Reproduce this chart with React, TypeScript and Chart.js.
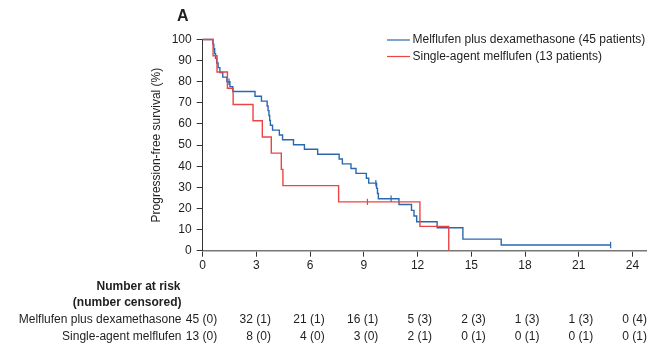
import React, { useEffect, useRef } from "react";
import { Chart, registerables } from "chart.js";

Chart.register(...registerables);

// ---- data ----
const blueTimes = [0, 0.57, 0.62, 0.67, 0.72, 0.78, 0.86, 0.96, 1.12, 1.35, 1.52, 1.68, 2.92, 3.28, 3.6, 3.65, 3.7, 3.74, 3.78, 3.9, 4.28, 4.46, 5.07, 5.68, 6.42, 7.62, 7.8, 8.28, 8.56, 9.14, 9.27, 9.71, 9.76, 9.81, 10.96, 11.66, 11.8, 11.95, 13.09, 14.53, 16.67, 22.78];
const blueSurvival = [100, 97.8, 95.6, 93.3, 91.1, 88.9, 86.7, 84.4, 82.2, 80.0, 77.7, 75.4, 73.1, 70.8, 68.5, 66.3, 64.0, 61.7, 59.4, 57.1, 54.8, 52.5, 50.2, 48.0, 45.7, 43.4, 41.1, 38.9, 36.6, 34.3, 32.0, 29.5, 27.1, 24.6, 21.9, 19.1, 16.4, 13.7, 10.9, 5.5, 2.7, 2.7];
const blueCensorTimes = [1.47, 9.67, 10.52, 22.78];
const blueCensorSurvival = [80.0, 32.0, 24.6, 2.7];

const redTimes = [0, 0.58, 0.8, 1.38, 1.7, 2.81, 3.33, 3.83, 4.39, 4.48, 7.59, 12.13, 13.74];
const redSurvival = [100, 92.3, 84.6, 76.9, 69.2, 61.5, 53.8, 46.2, 38.5, 30.8, 23.1, 11.5, 0];
const redCensorTimes = [9.2];
const redCensorSurvival = [23.1];

const xTicks = [0, 3, 6, 9, 12, 15, 18, 21, 24];
const yTicks = [0, 10, 20, 30, 40, 50, 60, 70, 80, 90, 100];

const seriesNames = ["Melflufen plus dexamethasone (45 patients)", "Single-agent melflufen (13 patients)"];
const riskRowLabels = ["Melflufen plus dexamethasone", "Single-agent melflufen"];
const riskBlue = ["45 (0)", "32 (1)", "21 (1)", "16 (1)", "5 (3)", "2 (3)", "1 (3)", "1 (3)", "0 (4)"];
const riskRed = ["13 (0)", "8 (0)", "4 (0)", "3 (0)", "2 (1)", "0 (1)", "0 (1)", "0 (1)", "0 (1)"];
const panelLabel = "A";
const yTitle = "Progression-free survival (%)";
const riskTitle = ["Number at risk", "(number censored)"];

const BLUE = "#2a68ae";
const RED = "#ec4444";
const FONT = '"Liberation Sans", Arial, sans-serif';
const TEXT = "#1e1e1e";

const toPoints = (t: number[], s: number[]) => t.map((x, i) => ({ x, y: s[i] }));

const overlay = {
  id: "overlay",
  afterDraw(chart: any) {
    const ctx = chart.ctx as CanvasRenderingContext2D;
    const xs = chart.scales.x;
    const area = chart.chartArea;
    ctx.save();
    ctx.fillStyle = TEXT;
    // panel label
    ctx.font = `bold 16px ${FONT}`;
    ctx.textAlign = "left";
    ctx.textBaseline = "middle";
    ctx.fillText(panelLabel, 177, 17);
    // legend
    const legendY = [40, 56.5];
    const colors = [BLUE, RED];
    ctx.font = `12px ${FONT}`;
    seriesNames.forEach((name, i) => {
      ctx.strokeStyle = colors[i];
      ctx.lineWidth = 1.2;
      ctx.beginPath();
      ctx.moveTo(387, legendY[i]);
      ctx.lineTo(410, legendY[i]);
      ctx.stroke();
      ctx.fillStyle = TEXT;
      ctx.fillText(name, 412.5, legendY[i]);
    });
    // y title
    ctx.save();
    ctx.translate(157, (area.top + area.bottom) / 2);
    ctx.rotate(-Math.PI / 2);
    ctx.textAlign = "center";
    ctx.textBaseline = "middle";
    ctx.font = `12px ${FONT}`;
    ctx.fillText(yTitle, 0, 0);
    ctx.restore();
    // risk table
    ctx.textAlign = "right";
    ctx.textBaseline = "middle";
    ctx.font = `bold 12px ${FONT}`;
    ctx.fillText(riskTitle[0], 180.5, 286.5);
    ctx.fillText(riskTitle[1], 181.5, 303);
    ctx.font = `12px ${FONT}`;
    const rowY = [320, 336.5];
    ctx.fillText(riskRowLabels[0], 181.5, rowY[0]);
    ctx.fillText(riskRowLabels[1], 181.5, rowY[1]);
    xTicks.forEach((t, i) => {
      const px = xs.getPixelForValue(t) + 14.5;
      ctx.fillText(riskBlue[i], px, rowY[0]);
      ctx.fillText(riskRed[i], px, rowY[1]);
    });
    ctx.restore();
  },
};

export default function App() {
  const ref = useRef<HTMLCanvasElement | null>(null);
  useEffect(() => {
    document.body.style.margin = "0";
    const canvas = ref.current!;
    const chart = new Chart(canvas, {
      type: "line",
      data: {
        datasets: [
          {
            label: seriesNames[1],
            data: toPoints(redTimes, redSurvival),
            borderColor: RED,
            borderWidth: 1.4,
            stepped: "before",
            pointRadius: 0,
            fill: false,
            clip: 6,
          } as any,
          {
            label: seriesNames[0],
            data: toPoints(blueTimes, blueSurvival),
            borderColor: BLUE,
            borderWidth: 1.4,
            stepped: "before",
            pointRadius: 0,
            fill: false,
            clip: 6,
          } as any,
          {
            type: "scatter",
            label: "censor-blue",
            data: toPoints(blueCensorTimes, blueCensorSurvival),
            borderColor: BLUE,
            backgroundColor: BLUE,
            pointStyle: "line",
            rotation: 90,
            pointRadius: 3.2,
            borderWidth: 1.2,
            showLine: false,
            clip: 6,
          } as any,
          {
            type: "scatter",
            label: "censor-red",
            data: toPoints(redCensorTimes, redCensorSurvival),
            borderColor: RED,
            backgroundColor: RED,
            pointStyle: "line",
            rotation: 90,
            pointRadius: 3.2,
            borderWidth: 1.2,
            showLine: false,
            clip: 6,
          } as any,
        ],
      },
      options: {
        animation: false,
        responsive: false,
        maintainAspectRatio: false,
        layout: { padding: { top: 39.5, right: 4.9, left: 0, bottom: 0 } },
        plugins: { legend: { display: false }, tooltip: { enabled: false } },
        scales: {
          x: {
            type: "linear",
            min: 0,
            max: 24.8,
            afterBuildTicks: (s: any) => {
              s.ticks = xTicks.map((v) => ({ value: v }));
            },
            afterFit: (s: any) => {
              s.height = 344 - 250.7;
            },
            ticks: {
              font: { family: FONT, size: 12 },
              color: TEXT,
              padding: 2,
              maxRotation: 0,
              autoSkip: false,
            },
            grid: { drawOnChartArea: false, drawTicks: true, tickLength: 6, color: "#333", lineWidth: 1 },
            border: { display: true, color: "#777", width: 1.6 },
          },
          y: {
            type: "linear",
            min: 0,
            max: 100,
            afterBuildTicks: (s: any) => {
              s.ticks = yTicks.map((v) => ({ value: v }));
            },
            afterFit: (s: any) => {
              s.width = 202.7;
            },
            ticks: {
              font: { family: FONT, size: 12 },
              color: TEXT,
              padding: 5,
            },
            grid: { drawOnChartArea: false, drawTicks: true, tickLength: 6, color: "#333", lineWidth: 1 },
            border: { display: true, color: "#333", width: 1 },
          },
        },
      },
      plugins: [overlay],
    } as any);
    return () => chart.destroy();
  }, []);
  return (
    <div style={{ width: 652, height: 344 }}>
      <canvas ref={ref} width={652} height={344} style={{ display: "block", width: 652, height: 344 }} />
    </div>
  );
}
